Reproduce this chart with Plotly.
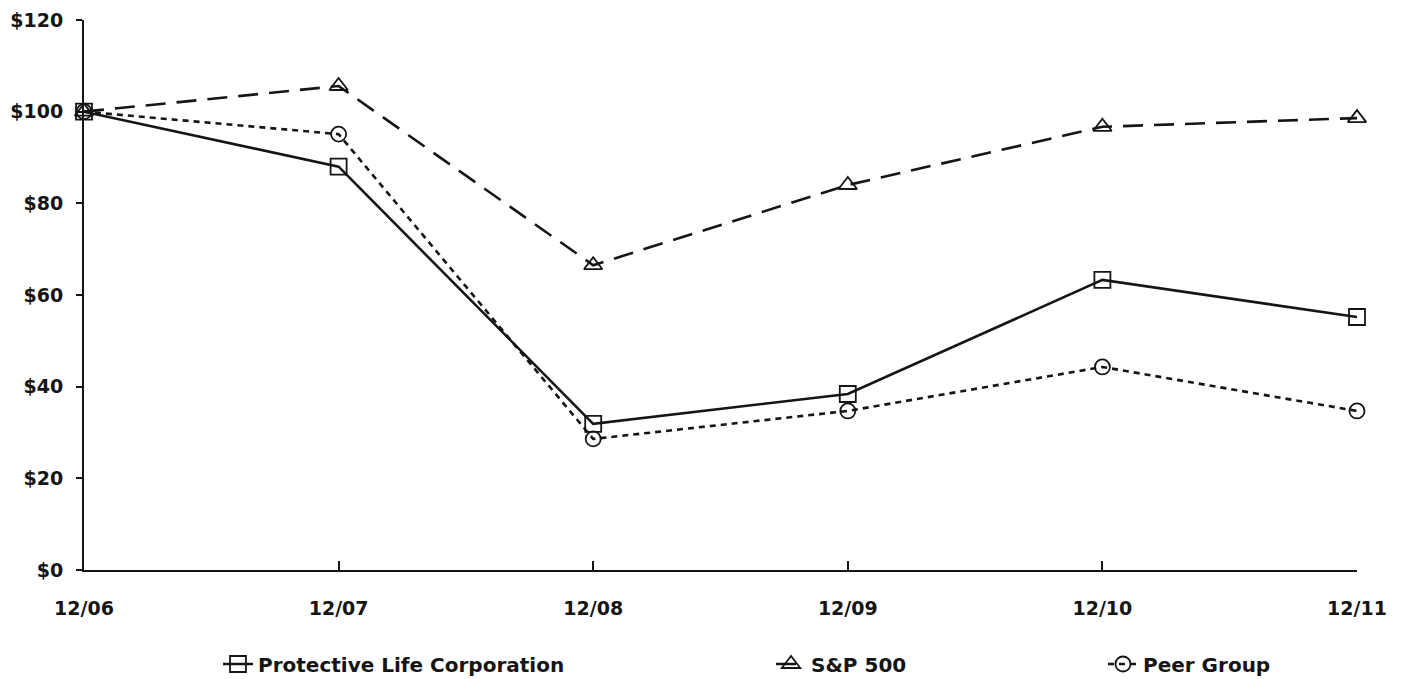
import plotly.graph_objects as go

periods = ["12/06", "12/07", "12/08", "12/09", "12/10", "12/11"]
protective = [100, 88.0, 31.9, 38.4, 63.3, 55.2]
sp500 = [100, 105.6, 66.5, 84.0, 96.7, 98.6]
peer = [100, 95.1, 28.6, 34.7, 44.3, 34.7]
y_ticks = [0, 20, 40, 60, 80, 100, 120]
y_labels = ["$" + str(v) for v in y_ticks]

xs = list(range(len(periods)))
ink = "#151515"
fam = "DejaVu Sans, Liberation Sans, Arial, sans-serif"
tick_font = dict(family=fam, size=19, color=ink, weight="bold")
leg_font = dict(family=fam, size=20, color=ink, weight="bold")

fig = go.Figure()
fig.add_trace(go.Scatter(
    x=xs, y=protective, name="Protective Life Corporation", mode="lines+markers",
    line=dict(color=ink, width=2.6, dash="solid"),
    marker=dict(symbol="square-open", size=16, color=ink, line=dict(width=1.8)),
    cliponaxis=False, legend="legend"))
fig.add_trace(go.Scatter(
    x=xs, y=sp500, name="S&P 500", mode="lines+markers",
    line=dict(color=ink, width=2.6, dash="20px,11px"),
    marker=dict(symbol="triangle-up-open", size=16, color=ink, line=dict(width=1.8)),
    cliponaxis=False, legend="legend2"))
fig.add_trace(go.Scatter(
    x=xs, y=peer, name="Peer Group", mode="lines+markers",
    line=dict(color=ink, width=2.6, dash="6px,5px"),
    marker=dict(symbol="circle-open", size=15, color=ink, line=dict(width=1.8)),
    cliponaxis=False, legend="legend3"))

W, H = 1401, 679
ml, mr, mt, mb = 76, 52, 12, 117
pw = W - ml - mr
ph = H - mt - mb

def px_x(p):
    return (p - ml) / pw

def px_y(p):
    return (H - mb - p) / ph

leg_common = dict(orientation="h", yanchor="middle", xanchor="left",
                  font=leg_font, bgcolor="rgba(0,0,0,0)")

fig.update_layout(
    width=W, height=H,
    margin=dict(l=ml, r=mr, t=mt, b=mb, autoexpand=False),
    paper_bgcolor="white", plot_bgcolor="white",
    font=tick_font,
    showlegend=True,
    legend=dict(x=px_x(210), y=px_y(656), **leg_common),
    legend2=dict(x=px_x(763), y=px_y(656), **leg_common),
    legend3=dict(x=px_x(1095), y=px_y(656), **leg_common),
    xaxis=dict(
        range=[0, 5], tickvals=xs, ticktext=periods,
        showline=True, linecolor=ink, linewidth=2,
        ticks="inside", ticklen=9, tickwidth=1.5, tickcolor=ink,
        showgrid=False, zeroline=False, ticklabelstandoff=20,
        tickfont=tick_font, automargin=False,
    ),
    yaxis=dict(
        range=[0, 120], tickvals=y_ticks, ticktext=y_labels,
        showline=True, linecolor=ink, linewidth=2,
        ticks="outside", ticklen=6, tickwidth=1.5, tickcolor=ink,
        showgrid=False, zeroline=False, ticklabelstandoff=9,
        tickfont=tick_font, automargin=False,
    ),
)

fig.write_html("out.html")
